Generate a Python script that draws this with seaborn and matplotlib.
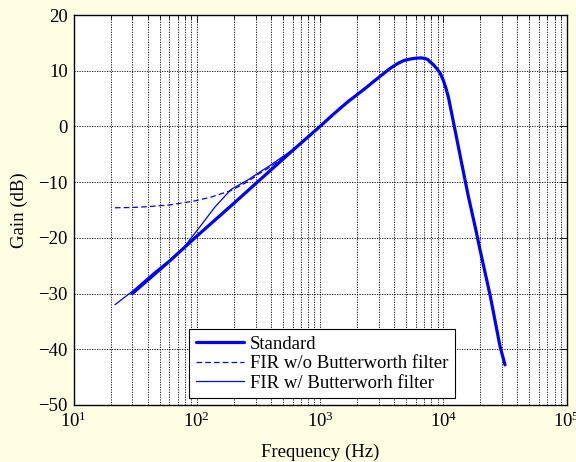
import matplotlib
matplotlib.use("Agg")
import matplotlib.pyplot as plt
import numpy as np
import seaborn as sns
from matplotlib.ticker import LogLocator, FixedLocator, NullFormatter

# ---------------- data ----------------
std_freq = [30, 60, 100, 200, 400, 700, 1000, 1200, 1450, 1700, 2000, 2350, 2700, 3200,
            3700, 4200, 4750, 5400, 6000, 6600, 7100, 7500, 7800, 8300, 8850, 9420,
            10000, 10500, 11000, 12450, 14100, 16000, 18400, 19900, 24000, 28900, 31700]
std_gain = [-30.0, -24.2, -19.7, -13.8, -7.8, -3.0, 0.0, 1.6, 3.2, 4.5, 5.7, 6.9, 8.0, 9.3,
            10.4, 11.2, 11.8, 12.1, 12.25, 12.3, 12.2, 12.0, 11.6, 11.1, 10.4, 9.6,
            8.3, 6.9, 5.3, -0.6, -6.6, -12.6, -18.6, -22.2, -30.3, -39.5, -42.8]

# low-frequency parts of the FIR responses (above 1 kHz they coincide with Standard)
fir_wo_freq = [21.7, 30, 40, 60, 95, 130, 190, 260, 330, 400, 500, 600, 800]
fir_wo_gain = [-14.6, -14.55, -14.4, -14.1, -13.4, -12.7, -11.5, -9.9, -8.3, -7.2, -5.6,
               -4.2, -2.0]

fir_w_freq = [21.7, 30, 45, 60, 78, 107, 140, 190, 260, 330, 400, 500, 600, 800]
fir_w_gain = [-32.0, -29.6, -26.2, -24.0, -21.8, -17.9, -14.5, -11.3, -9.6, -8.1, -6.9,
              -5.4, -4.2, -2.0]

labels = ["Standard", "FIR w/o Butterworth filter", "FIR w/ Butterworh filter"]
y_ticks = [-50, -40, -30, -20, -10, 0, 10, 20]

# shared high-frequency part (from 1 kHz on)
tail_f = [f for f in std_freq if f >= 1000]
tail_g = [g for f, g in zip(std_freq, std_gain) if f >= 1000]

# ---------------- style ----------------
sns.set_theme(style="white")
plt.rcParams["font.family"] = ["Liberation Serif", "DejaVu Serif"]
plt.rcParams["mathtext.fontset"] = "custom"
plt.rcParams["mathtext.rm"] = "Liberation Serif"
plt.rcParams["mathtext.it"] = "Liberation Serif:italic"
plt.rcParams["mathtext.bf"] = "Liberation Serif:bold"

bg = "#fffee2"
blue = "#0000ff"
fs = 13.5

fig = plt.figure(figsize=(5.76, 4.62), dpi=100, facecolor=bg)
ax = fig.add_axes([73.5 / 576, 1 - 405 / 462, 493 / 576, 390 / 462])
ax.set_facecolor("white")

sns.lineplot(x=std_freq, y=std_gain, ax=ax, color=blue, linewidth=2.3,
             sort=False, estimator=None, label=labels[0])
sns.lineplot(x=fir_wo_freq + tail_f, y=fir_wo_gain + tail_g, ax=ax, color=blue,
             linewidth=0.9, sort=False, estimator=None, label=labels[1])
ax.lines[-1].set_linestyle((0, (4.5, 2.5)))
sns.lineplot(x=fir_w_freq + tail_f, y=fir_w_gain + tail_g, ax=ax, color=blue,
             linewidth=0.9, sort=False, estimator=None, label=labels[2])

ax.set_xscale("log")
ax.set_xlim(10, 1e5)
ax.set_ylim(-50, 20)
ax.yaxis.set_major_locator(FixedLocator(y_ticks))
ax.xaxis.set_major_locator(LogLocator(base=10, numticks=10))
ax.xaxis.set_minor_locator(LogLocator(base=10, subs=np.arange(2, 10), numticks=20))
ax.xaxis.set_minor_formatter(NullFormatter())

dot = (0, (1.5, 1.5))
ax.grid(True, which="major", axis="both", linestyle=dot, color="black", linewidth=0.6)
ax.grid(True, which="minor", axis="x", linestyle=dot, color="black", linewidth=0.6)
ax.set_axisbelow(True)

for s in ax.spines.values():
    s.set_color("black")
    s.set_linewidth(1.0)

ax.tick_params(which="both", direction="in", top=True, right=True, colors="black",
               labelcolor="black", width=0.6)
ax.tick_params(which="major", length=5, labelsize=fs)
ax.tick_params(which="minor", length=3)
ax.tick_params(axis="y", pad=4)
ax.tick_params(axis="x", pad=5)

ax.set_xlabel("Frequency (Hz)", fontsize=fs, color="black")
ax.set_ylabel("Gain (dB)", fontsize=fs, color="black")
ax.xaxis.set_label_coords(0.5, -0.098)
ax.yaxis.set_label_coords(-0.093, 0.5)

leg = ax.legend(loc="upper left", bbox_to_anchor=(0.2343, 0.1949), borderaxespad=0,
                fontsize=fs, frameon=True, fancybox=False, edgecolor="black",
                framealpha=1, handlelength=2.6, handletextpad=0.3, labelspacing=0.13,
                borderpad=0.35)
leg.get_frame().set_linewidth(0.8)
for t in leg.get_texts():
    t.set_color("black")

fig.savefig("out.png", dpi=100, facecolor=bg)
